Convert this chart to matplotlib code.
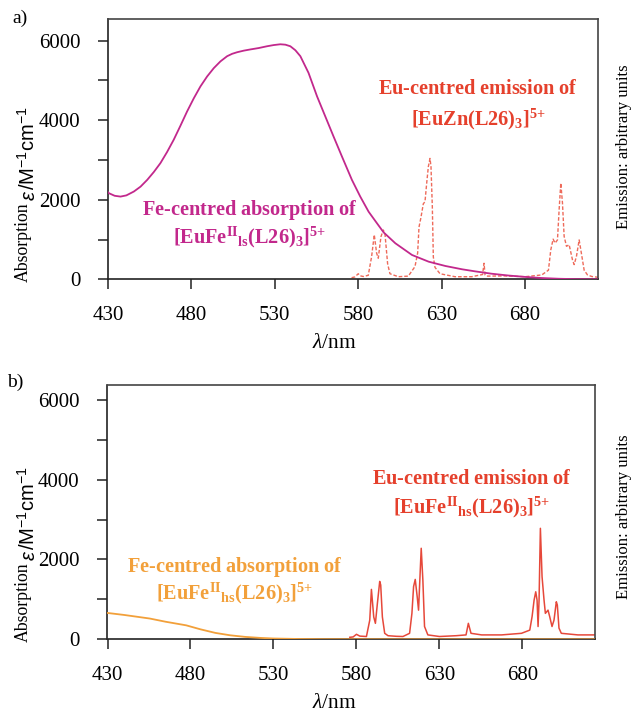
import matplotlib
matplotlib.use("Agg")
import matplotlib.pyplot as plt
from matplotlib.ticker import MultipleLocator

plt.rcParams['font.family'] = ['Liberation Serif', 'DejaVu Serif']
plt.rcParams['mathtext.fontset'] = 'custom'
plt.rcParams['mathtext.rm'] = 'Liberation Serif'
plt.rcParams['mathtext.it'] = 'Liberation Serif:italic'
plt.rcParams['mathtext.bf'] = 'Liberation Serif:bold'
plt.rcParams['mathtext.sf'] = 'Liberation Sans'

# ---------------- data ----------------
xticks = [430, 480, 530, 580, 630, 680]
yticks = [0, 2000, 4000, 6000]

# panel a: Fe-centred absorption of [EuFe(II)ls(L26)3]5+
abs_a_wl = [430, 430.5, 434, 437.5, 441, 445.5, 449.5, 453.5, 457.5, 461.4, 465.4, 469.4, 473.4,
            477.4, 481.4, 485.4, 489.4, 493.4, 497.4, 501.4, 504.4, 507.4, 511.4, 515.3, 520.3,
            525.3, 529.3, 533.3, 536.3, 539.3, 542.3, 545.3, 550.2, 555.3, 560.2, 565.2, 570.2,
            576.2, 581.2, 586.2, 591.2, 595.2, 602.2, 612.2, 622.2, 632.2, 642.2, 650, 660,
            670, 680, 690, 700, 710, 724]
abs_a = [2190, 2166, 2100, 2080, 2110, 2207, 2330, 2500, 2700, 2920, 3200, 3510, 3860,
         4220, 4550, 4850, 5100, 5310, 5480, 5610, 5670, 5710, 5750, 5780, 5815,
         5860, 5890, 5910, 5900, 5860, 5760, 5610, 5190, 4600, 4100, 3590, 3090,
         2500, 2080, 1700, 1410, 1180, 907, 612, 443, 335, 252, 200, 140,
         95, 60, 32, 14, 4, 0]

# panel a: Eu-centred emission of [EuZn(L26)3]5+ (arbitrary units)
em_a_wl = [576, 578, 580, 581, 583, 586, 588, 589.6, 591, 592, 593.6, 595, 596, 597.6, 599,
           604, 610, 614, 615.6, 616.4, 617.6, 619, 620, 621, 622, 623, 623.6, 624.4, 625, 626,
           629, 638, 648, 654.5, 655.4, 656, 657, 668, 680, 690, 694, 695.4, 696.8, 698, 699.4,
           700.4, 701.4, 702.4, 703.4, 704.8, 706.4, 708.4, 709.4, 710.8, 712.4, 713.4, 715.4,
           717.4, 720, 724]
em_a = [40, 60, 140, 90, 70, 100, 570, 1120, 660, 530, 1070, 1240, 1150, 390, 140,
        65, 80, 320, 660, 1310, 1560, 1900, 1950, 2410, 2830, 3040, 2830, 1820, 560, 300,
        140, 65, 65, 120, 403, 110, 80, 85, 65, 110, 230, 740, 1010, 910, 990,
        1750, 2420, 1920, 1080, 830, 870, 490, 370, 580, 990, 740, 230,
        110, 70, 50]

# panel b: Fe-centred absorption of [EuFe(II)hs(L26)3]5+
abs_b_wl = [430, 440, 455.5, 465, 477.4, 486, 495, 504, 513, 522, 530, 545, 560, 600, 650, 724]
abs_b = [660, 610, 520, 440, 350, 250, 160, 100, 60, 35, 20, 8, 3, 0, 0, 0]

# panel b: Eu-centred emission of [EuFe(II)hs(L26)3]5+ (arbitrary units)
em_b_wl = [576, 578, 580, 582, 586, 588, 589, 590.4, 591.4, 592.6, 594, 594.6, 595.6, 597, 599,
           604, 608, 612, 613.4, 614.4, 615.4, 616.6, 617.4, 618, 619, 620, 621, 623, 630, 640,
           646, 647.4, 649, 655.4, 667.4, 679.4, 684.4, 685.8, 687, 688, 688.8, 689.4, 690, 690.8,
           691.8, 693, 693.8, 695.4, 696.4, 697.8, 699, 700.4, 701, 702, 703.4, 713.4, 722.4, 724]
em_b = [50, 60, 125, 80, 70, 480, 1250, 560, 400, 900, 1450, 1360, 560, 150, 90,
        75, 70, 150, 650, 1320, 1500, 1060, 730, 1320, 2280, 1480, 320, 110, 70, 90,
        110, 400, 150, 110, 110, 150, 230, 570, 980, 1190, 980, 320, 980, 2780,
        1570, 980, 650, 730, 570, 320, 480, 940, 860, 280, 150, 110, 110, 110]

MAG = '#c2288c'
RED_TXT = '#e5402c'
RED_DASH = '#ee6a5a'
RED_B = '#e6483a'
ORANGE = '#f2a03a'

W, H = 633, 719
fig = plt.figure(figsize=(W / 100, H / 100), dpi=100)
renderer = fig.canvas.get_renderer()


def px(x, y):
    return x / W, 1 - y / H


def make_axes(left, top, right, bottom, ymax):
    ax = fig.add_axes([left / W, 1 - bottom / H, (right - left) / W, (bottom - top) / H])
    ax.set_xlim(430, 723.7)
    ax.set_ylim(0, ymax)
    ax.set_xticks(xticks)
    ax.set_yticks(yticks)
    ax.yaxis.set_minor_locator(MultipleLocator(1000))
    ax.tick_params(axis='both', which='major', direction='out', length=7, width=1.1,
                   labelsize=15, color='#222222')
    ax.tick_params(axis='y', which='minor', direction='out', length=7, width=1.1, color='#222222')
    ax.tick_params(axis='x', which='major', pad=12)
    ax.tick_params(axis='y', which='major', pad=13)
    for s in ax.spines.values():
        s.set_color('#444444')
        s.set_linewidth(1.2)
    ax.spines['bottom'].set_color('#222222')
    ax.spines['left'].set_color('#222222')
    return ax


def ylabel(top_y):
    # stacked rotated pieces: unit (top), italic epsilon, then "Absorption"
    t1 = fig.text(*px(29, top_y), r'$\mathsf{/M^{-1}cm^{-1}}$', fontsize=14.5,
                  rotation=90, ha='center', va='top')
    b1 = t1.get_window_extent(renderer)
    t2 = fig.text(29 / W, (b1.y0 - 1) / H, 'ε', fontsize=14.5, family='Liberation Sans',
                  style='italic', rotation=90, ha='center', va='top')
    b2 = t2.get_window_extent(renderer)
    fig.text(23 / W, (b2.y0 - 3) / H, 'Absorption', fontsize=12.8, rotation=90,
             ha='center', va='top')


FS_ANN = 14.6

# ---------------- panel a ----------------
axa = make_axes(108, 19.3, 598, 279.3, 6538)
axa.plot(abs_a_wl, abs_a, color=MAG, lw=1.3, zorder=3)
axa.plot(em_a_wl, em_a, color=RED_DASH, lw=1.0, ls=(0, (2.6, 1.4)), zorder=2)

fig.text(*px(20, 18), 'a)', fontsize=14, ha='center', va='center')
fig.text(*px(250, 210), r'$\mathbf{Fe}$-$\mathbf{centred\ absorption\ of}$',
         color=MAG, fontsize=FS_ANN, ha='center', va='center')
fig.text(*px(250, 237), r'$\mathbf{[EuFe^{II}{}_{ls}(L26)_{3}]^{5{+}}}$',
         color=MAG, fontsize=FS_ANN, ha='center', va='center')
fig.text(*px(478, 90), r'$\mathbf{Eu}$-$\mathbf{centred\ emission\ of}$',
         color=RED_TXT, fontsize=FS_ANN, ha='center', va='center')
fig.text(*px(478, 119), r'$\mathbf{[EuZn(L26)_{3}]^{5{+}}}$',
         color=RED_TXT, fontsize=FS_ANN, ha='center', va='center')
fig.text(*px(334, 343), r'$\it{\lambda}$/nm', fontsize=15.5, ha='center', va='center')
ylabel(106)
fig.text(*px(624, 147), 'Emission: arbitrary units', fontsize=12, rotation=90,
         ha='center', va='center')

# ---------------- panel b ----------------
axb = make_axes(107.5, 385, 595, 639.3, 6370)
axb.plot(abs_b_wl, abs_b, color=ORANGE, lw=1.3, zorder=3)
axb.plot(em_b_wl, em_b, color=RED_B, lw=1.1, zorder=2)

fig.text(*px(15, 382), 'b)', fontsize=14, ha='center', va='center')
fig.text(*px(472, 480), r'$\mathbf{Eu}$-$\mathbf{centred\ emission\ of}$',
         color=RED_TXT, fontsize=FS_ANN, ha='center', va='center')
fig.text(*px(472, 507), r'$\mathbf{[EuFe^{II}{}_{hs}(L26)_{3}]^{5{+}}}$',
         color=RED_TXT, fontsize=FS_ANN, ha='center', va='center')
fig.text(*px(235, 567), r'$\mathbf{Fe}$-$\mathbf{centred\ absorption\ of}$',
         color=ORANGE, fontsize=FS_ANN, ha='center', va='center')
fig.text(*px(235, 593), r'$\mathbf{[EuFe^{II}{}_{hs}(L26)_{3}]^{5{+}}}$',
         color=ORANGE, fontsize=FS_ANN, ha='center', va='center')
fig.text(*px(334, 703), r'$\it{\lambda}$/nm', fontsize=15.5, ha='center', va='center')
ylabel(466)
fig.text(*px(624, 517), 'Emission: arbitrary units', fontsize=12, rotation=90,
         ha='center', va='center')

fig.savefig('out.png', dpi=100)
